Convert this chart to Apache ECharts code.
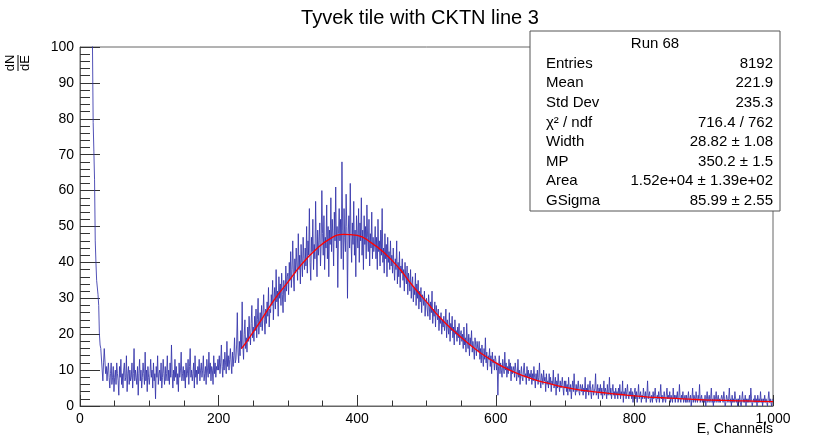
<!DOCTYPE html>
<html>
<head>
<meta charset="utf-8">
<script src="https://cdn.jsdelivr.net/npm/echarts@6/dist/echarts.min.js"></script>
<style>
html,body{margin:0;padding:0;background:#fff;}
#chart{width:840px;height:439px;}
</style>
</head>
<body>
<div id="chart"></div>
<script>
// Histogram: 1-channel bins from 0 to 1000 (counts; first bins run off the top)
const binWidth = 1;
const counts = [
  200,500,900,1300,1500,1400,1200,1000,800,650,500,400,320,260,210,170,140,115,100,79,71,63,46,40,35,
  35,31,28,20,17,16,16,16,7,12,16,16,9,11,7,10,12,8,5,9,12,6,8,11,4,
  8,10,6,12,9,7,3,11,8,13,6,9,5,10,12,7,8,14,4,9,11,6,10,7,8,
  12,5,9,16,7,10,8,6,11,3,9,13,7,10,5,8,12,9,6,15,7,10,4,11,8,
  6,9,13,8,10,5,12,7,9,2,11,8,14,6,9,10,7,12,5,8,13,9,6,11,7,
  9,14,7,10,6,12,8,17,9,5,10,7,13,8,11,6,9,4,12,8,10,15,7,9,11,
  7,10,5,12,8,9,13,6,11,16,8,10,7,9,12,5,14,8,10,6,11,9,13,7,10,
  12,8,10,14,7,9,11,6,13,10,8,15,9,12,7,11,10,6,14,9,12,8,11,10,13,
  10,14,9,12,17,11,8,13,10,15,12,9,18,11,14,10,13,16,12,9,15,11,14,19,12,
  13,17,26,15,12,18,14,21,16,29,17,13,20,24,16,19,15,22,18,25,20,17,23,28,19,
  22,18,25,21,27,19,24,30,20,23,26,22,28,21,25,31,24,20,27,23,29,25,33,22,27,
  26,31,28,35,24,30,33,27,38,29,32,25,36,30,34,28,37,31,26,35,33,29,39,32,36,
  37,31,40,35,43,33,38,46,36,32,41,37,44,39,35,48,38,42,34,45,40,36,47,41,38,
  44,39,50,37,46,42,55,40,35,47,43,52,38,45,41,57,44,36,49,42,46,51,39,45,60,
  48,42,53,38,47,44,56,41,50,36,49,45,58,43,52,47,39,54,46,61,44,50,33,48,55,
  46,52,41,68,49,38,55,47,43,59,50,30,48,53,44,62,47,40,51,45,57,42,49,36,53,
  48,44,55,40,51,46,58,42,49,38,53,45,50,41,56,47,43,52,39,48,44,54,41,47,43,
  45,50,41,47,38,52,43,46,39,49,42,55,40,44,37,48,41,45,36,47,40,43,38,46,39,
  42,37,44,39,35,41,38,46,34,40,36,43,33,39,37,41,35,38,32,40,36,34,39,31,37,
  35,32,38,30,34,36,29,33,31,37,28,34,30,35,27,32,29,33,26,31,30,28,32,25,29,
  30,27,25,31,28,24,29,26,32,23,27,25,29,22,28,26,24,27,21,25,23,26,20,24,22,
  25,21,23,27,19,24,22,20,26,18,23,21,25,19,22,17,24,20,21,18,22,19,23,17,20,
  21,18,20,16,22,17,19,15,23,18,16,20,14,19,17,21,15,18,16,13,19,17,14,18,16,
  15,18,13,16,12,17,14,11,16,13,19,12,15,10,14,13,16,11,14,9,15,12,13,10,14,
  13,10,12,3,11,14,9,12,10,8,13,11,9,15,10,12,8,11,9,13,10,12,7,11,9,
  9,11,8,12,10,7,9,13,8,10,6,9,11,8,7,10,12,8,9,6,11,8,10,7,9,
  8,10,6,9,7,11,8,5,9,7,10,6,8,12,7,5,9,8,6,10,7,8,4,9,6,
  7,5,9,6,8,4,7,6,10,5,6,8,3,7,5,9,6,4,7,5,6,8,5,3,7,
  5,7,4,6,3,8,5,4,6,2,5,7,4,9,5,3,6,4,5,7,4,3,6,5,4,
  6,3,5,4,8,2,5,4,6,3,5,7,4,2,5,6,3,4,5,9,3,4,6,2,5,
  4,6,3,5,2,4,7,3,5,4,2,6,3,4,8,3,5,2,4,6,3,4,2,5,3,
  4,2,5,3,6,2,4,3,7,1,4,3,5,2,4,6,3,2,4,3,5,2,4,1,3,
  3,5,2,4,1,3,6,2,3,4,1,3,2,5,3,2,4,1,3,7,2,3,4,1,2,
  3,1,4,2,3,5,2,1,3,2,4,1,3,6,2,3,1,2,4,2,1,3,5,2,3,
  2,4,1,3,2,1,5,2,3,1,3,2,4,1,2,6,2,1,3,2,4,1,2,3,1,
  3,1,2,4,1,2,3,0,2,5,1,3,2,1,4,2,1,3,2,6,1,2,3,1,2,
  2,1,3,0,2,4,1,2,3,1,2,5,1,2,0,3,1,2,4,1,2,3,1,2,1,
  1,3,2,1,4,2,0,1,3,2,1,2,5,1,2,0,3,1,2,1,4,2,1,2,0,
  2,1,3,1,0,2,4,1,2,1,3,0,2,1,2,1,3,1,5,2,0,1,2,1,3,
  1,2,0,3,1,2,1,4,1,2,0,2,1,3,1,2,1,0,2,4,1,2,1,0,2
];
// Fit curve (Landau (x) Gauss)
const fitX = [233,240,260,280,300,320,340,360,380,400,420,440,460,480,500,520,540,560,580,600,620,640,660,680,700,720,740,760,780,800,820,840,860,880,900,920,940,960,980,1000];
const fitY = [16,17.8,23.5,29.5,34.5,39.5,43.5,46.5,47.8,47.5,45.5,42.5,38.5,33.5,29,24.5,20.8,17.5,14.5,12,10,8.4,7.1,6.1,5.2,4.5,4,3.6,3.2,2.8,2.5,2.3,2.1,1.9,1.7,1.6,1.5,1.4,1.3,1.2];

const titleText = 'Tyvek tile with CKTN line 3';
const xName = 'E, Channels';
const statsTitle = 'Run 68';
const statsLabels = ['Entries','Mean','Std Dev','\u03c7\u00b2 / ndf','Width','MP','Area','GSigma'];
const statsValues = ['8192','221.9','235.3','716.4 / 762','28.82 \u00b1 1.08','350.2 \u00b1 1.5','1.52e+04 \u00b1 1.39e+02','85.99 \u00b1 2.55'];

const FONT = '"Liberation Sans", Arial, Helvetica, sans-serif';

const histData = counts.map((v, i) => [i * binWidth, v]);
histData.push([counts.length * binWidth, counts[counts.length - 1]]);
const fitData = fitX.map((x, i) => [x, fitY[i]]);

const L = 80, R = 773, T = 47, B = 406;

const graphics = [];
graphics.push({type:'text', left:'center', top:8, style:{text:titleText, font:'20px ' + FONT, fill:'#000'}});
// y axis title dN/dE (fraction, rotated)
graphics.push({type:'group', x:18, y:63, rotation:Math.PI/2, children:[
  {type:'text', x:0, y:-1, style:{text:'dN', font:'13px ' + FONT, fill:'#000', textAlign:'center', textVerticalAlign:'bottom'}},
  {type:'line', shape:{x1:-8, y1:0, x2:8, y2:0}, style:{stroke:'#000', lineWidth:1}},
  {type:'text', x:0, y:1, style:{text:'dE', font:'13px ' + FONT, fill:'#000', textAlign:'center', textVerticalAlign:'top'}}
]});
graphics.push({type:'text', x:R, y:422, style:{text:xName, font:'14px ' + FONT, fill:'#000', textAlign:'right', textVerticalAlign:'top'}});
// stats box
const bx = 530, by = 31, bw = 250, bh = 180, row = 19.6;
const statsChildren = [
  {type:'rect', shape:{x:bx, y:by, width:bw, height:bh}, style:{fill:'#fff', stroke:'#555', lineWidth:1}},
  {type:'text', x:bx + bw/2, y:by + 13, style:{text:statsTitle, font:'15px ' + FONT, fill:'#000', textAlign:'center', textVerticalAlign:'middle'}}
];
statsLabels.forEach((lab, i) => {
  const yy = by + 13 + row * (i + 1);
  statsChildren.push({type:'text', x:bx + 16, y:yy, style:{text:lab, font:'15px ' + FONT, fill:'#000', textAlign:'left', textVerticalAlign:'middle'}});
  statsChildren.push({type:'text', x:R, y:yy, style:{text:statsValues[i], font:'15px ' + FONT, fill:'#000', textAlign:'right', textVerticalAlign:'middle'}});
});
graphics.push({type:'group', z:100, children:statsChildren});

const chart = echarts.init(document.getElementById('chart'), null, {renderer:'canvas'});
chart.setOption({
  animation:false,
  backgroundColor:'#fff',
  grid:{left:L, right:840 - R, top:T, bottom:439 - B, show:true, borderColor:'#666', borderWidth:1, backgroundColor:'transparent'},
  xAxis:{type:'value', min:0, max:1000, interval:200,
    axisLine:{show:true, onZero:false, lineStyle:{color:'#666'}},
    axisTick:{show:true, inside:true, length:11, lineStyle:{color:'#333'}},
    minorTick:{show:true, splitNumber:4, length:5.5, lineStyle:{color:'#333'}},
    axisLabel:{fontFamily:FONT, fontSize:14, color:'#000', margin:6},
    splitLine:{show:false}},
  yAxis:{type:'value', min:0, max:100, interval:10,
    axisLine:{show:true, onZero:false, lineStyle:{color:'#666'}},
    axisTick:{show:true, inside:true, length:20, lineStyle:{color:'#333'}},
    minorTick:{show:true, splitNumber:5, length:10, lineStyle:{color:'#333'}},
    axisLabel:{fontFamily:FONT, fontSize:14, color:'#000', margin:6},
    splitLine:{show:false}},
  series:[
    {type:'line', data:histData, step:'end', showSymbol:false, symbol:'none', clip:true,
     lineStyle:{color:'#3434aa', width:1, opacity:0.85}, z:2},
    {type:'line', data:fitData, smooth:true, showSymbol:false, symbol:'none', clip:true,
     lineStyle:{color:'#ff0000', width:1.3}, z:3}
  ],
  graphic:graphics
});
</script>
</body>
</html>
